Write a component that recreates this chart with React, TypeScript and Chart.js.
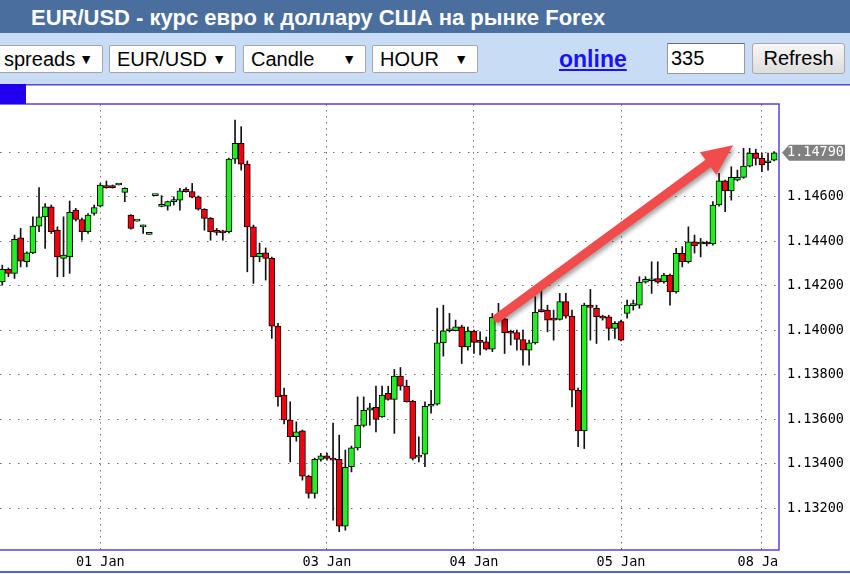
import React, { useEffect, useRef } from 'react';
import { Chart, registerables } from 'chart.js';

Chart.register(...registerables);

// Hourly EUR/USD candles, oldest first
const OPEN = [
  1.14218, 1.14274, 1.14256, 1.14416, 1.14308, 1.14348, 1.14468, 1.14510, 1.14555, 1.14450,
  1.14323, 1.14330, 1.14540, 1.14498, 1.14443, 1.14525, 1.14558, 1.14650, 1.14650, 1.14653,
  1.14620, 1.14518, 1.14491, 1.14465, 1.14431, 1.14605, 1.14557, 1.14558, 1.14578, 1.14585,
  1.14634, 1.14623, 1.14600, 1.14544, 1.14503, 1.14443, 1.14443, 1.14443, 1.14769, 1.14840,
  1.14747, 1.14465, 1.14330, 1.14348, 1.14323, 1.14019, 1.13709, 1.13597, 1.13522, 1.13548,
  1.13345, 1.13267, 1.13420, 1.13436, 1.13426, 1.13420, 1.13120, 1.13387, 1.13472, 1.13573,
  1.13641, 1.13654, 1.13611, 1.13717, 1.13690, 1.13794, 1.13749, 1.13682, 1.13430, 1.13444,
  1.13659, 1.13668, 1.13944, 1.13998, 1.13998, 1.14016, 1.13926, 1.13997, 1.13948, 1.13948,
  1.13915, 1.14059, 1.14052, 1.13990, 1.13990, 1.13959, 1.13911, 1.13944, 1.14091, 1.14091,
  1.14049, 1.14049, 1.14129, 1.14064, 1.13731, 1.13548, 1.14113, 1.14099, 1.14061, 1.14061,
  1.14009, 1.14039, 1.14076, 1.14111, 1.14113, 1.14216, 1.14223, 1.14233, 1.14218, 1.14248,
  1.14173, 1.14346, 1.14308, 1.14398, 1.14388, 1.14393, 1.14388, 1.14563, 1.14672, 1.14627,
  1.14675, 1.14687, 1.14738, 1.14796, 1.14773, 1.14753, 1.14765,
];
const HIGH = [
  1.14293, 1.14280, 1.14428, 1.14458, 1.14353, 1.14510, 1.14642, 1.14570, 1.14563, 1.14465,
  1.14510, 1.14581, 1.14548, 1.14504, 1.14525, 1.14563, 1.14660, 1.14671, 1.14653, 1.14653,
  1.14641, 1.14520, 1.14491, 1.14473, 1.14431, 1.14605, 1.14605, 1.14581, 1.14600, 1.14638,
  1.14642, 1.14660, 1.14604, 1.14547, 1.14507, 1.14458, 1.14450, 1.14774, 1.14945, 1.14915,
  1.14761, 1.14473, 1.14392, 1.14370, 1.14329, 1.14032, 1.13740, 1.13679, 1.13589, 1.13552,
  1.13349, 1.13426, 1.13447, 1.13448, 1.13583, 1.13529, 1.13462, 1.13480, 1.13701, 1.13701,
  1.13672, 1.13749, 1.13749, 1.13749, 1.13824, 1.13833, 1.13776, 1.13686, 1.13522, 1.13679,
  1.13731, 1.14100, 1.14113, 1.14076, 1.14046, 1.14023, 1.14015, 1.14001, 1.13993, 1.13970,
  1.14076, 1.14121, 1.14055, 1.14001, 1.14001, 1.14001, 1.13956, 1.14151, 1.14203, 1.14113,
  1.14091, 1.14166, 1.14166, 1.14091, 1.13740, 1.14122, 1.14184, 1.14113, 1.14068, 1.14068,
  1.14039, 1.14046, 1.14136, 1.14136, 1.14241, 1.14241, 1.14308, 1.14308, 1.14256, 1.14253,
  1.14368, 1.14376, 1.14465, 1.14428, 1.14413, 1.14401, 1.14578, 1.14706, 1.14675, 1.14735,
  1.14720, 1.14818, 1.14818, 1.14814, 1.14796, 1.14796, 1.14803,
];
const LOW = [
  1.14203, 1.14241, 1.14233, 1.14285, 1.14285, 1.14345, 1.14443, 1.14368, 1.14435, 1.14241,
  1.14241, 1.14256, 1.14491, 1.14405, 1.14435, 1.14518, 1.14555, 1.14638, 1.14639, 1.14653,
  1.14578, 1.14455, 1.14491, 1.14435, 1.14431, 1.14605, 1.14555, 1.14540, 1.14563, 1.14540,
  1.14621, 1.14595, 1.14540, 1.14450, 1.14405, 1.14428, 1.14405, 1.14438, 1.14750, 1.14720,
  1.14263, 1.14211, 1.14308, 1.14226, 1.13964, 1.13659, 1.13579, 1.13409, 1.13502, 1.13327,
  1.13246, 1.13246, 1.13412, 1.13417, 1.13147, 1.13095, 1.13102, 1.13364, 1.13462, 1.13566,
  1.13574, 1.13544, 1.13609, 1.13686, 1.13537, 1.13731, 1.13677, 1.13417, 1.13409, 1.13387,
  1.13628, 1.13664, 1.13884, 1.13992, 1.13997, 1.13851, 1.13911, 1.13896, 1.13889, 1.13911,
  1.13904, 1.14048, 1.13896, 1.13934, 1.13911, 1.13844, 1.13844, 1.13938, 1.14082, 1.13993,
  1.13956, 1.14046, 1.14055, 1.13656, 1.13477, 1.13469, 1.13956, 1.13941, 1.14046, 1.13956,
  1.13964, 1.13952, 1.14055, 1.14091, 1.14099, 1.14212, 1.14166, 1.14211, 1.14212, 1.14113,
  1.14167, 1.14285, 1.14302, 1.14347, 1.14330, 1.14379, 1.14383, 1.14558, 1.14533, 1.14585,
  1.14671, 1.14683, 1.14734, 1.14743, 1.14713, 1.14720, 1.14761,
];
const CLOSE = [
  1.14274, 1.14256, 1.14409, 1.14311, 1.14348, 1.14468, 1.14510, 1.14555, 1.14443, 1.14330,
  1.14338, 1.14530, 1.14498, 1.14443, 1.14518, 1.14552, 1.14653, 1.14641, 1.14641, 1.14653,
  1.14638, 1.14458, 1.14491, 1.14465, 1.14431, 1.14605, 1.14557, 1.14578, 1.14585, 1.14627,
  1.14623, 1.14598, 1.14544, 1.14503, 1.14443, 1.14440, 1.14438, 1.14769, 1.14840, 1.14747,
  1.14465, 1.14330, 1.14346, 1.14323, 1.14019, 1.13701, 1.13597, 1.13522, 1.13544, 1.13345,
  1.13267, 1.13420, 1.13436, 1.13424, 1.13417, 1.13120, 1.13384, 1.13472, 1.13573, 1.13641,
  1.13652, 1.13600, 1.13709, 1.13690, 1.13794, 1.13749, 1.13679, 1.13424, 1.13439, 1.13659,
  1.13668, 1.13944, 1.13998, 1.14004, 1.14016, 1.13926, 1.13997, 1.13946, 1.13946, 1.13915,
  1.14058, 1.14052, 1.13988, 1.13987, 1.13959, 1.13911, 1.13944, 1.14081, 1.14084, 1.14046,
  1.14046, 1.14129, 1.14064, 1.13731, 1.13548, 1.14113, 1.14103, 1.14061, 1.14055, 1.14009,
  1.14032, 1.13956, 1.14113, 1.14116, 1.14216, 1.14229, 1.14229, 1.14216, 1.14248, 1.14173,
  1.14346, 1.14308, 1.14398, 1.14379, 1.14393, 1.14388, 1.14563, 1.14672, 1.14627, 1.14687,
  1.14687, 1.14738, 1.14796, 1.14773, 1.14743, 1.14762, 1.14798,
];

// Axis marks
const DAY_INDEX = [16, 53, 77, 101, 124];
const DAY_LABELS = ['01 Jan', '03 Jan', '04 Jan', '05 Jan', '08 Jan'];
const PRICE_TICKS = [1.132, 1.134, 1.136, 1.138, 1.14, 1.142, 1.144, 1.146, 1.148];
const Y_RANGE = [1.13013, 1.15017];
const X_RANGE = [-0.37, 126.79];
const LAST_QUOTE = '1.14790';
// Trend arrow annotation: [candle index, price]
const ARROW_FROM = [80.8, 1.14055];
const ARROW_TO = [119.3, 1.14832];

const FRAME = '#5346dc';

const decorations = {
  id: 'decorations',
  afterDatasetsDraw(chart: any) {
    const { ctx, scales } = chart;
    const xs = scales.x;
    const ys = scales.y;
    const x1 = xs.getPixelForValue(ARROW_FROM[0]);
    const y1 = ys.getPixelForValue(ARROW_FROM[1]);
    const x2 = xs.getPixelForValue(ARROW_TO[0]);
    const y2 = ys.getPixelForValue(ARROW_TO[1]);
    const a = Math.atan2(y2 - y1, x2 - x1);
    const c = Math.cos(a), s = Math.sin(a);
    const headLen = 31, headHalf = 14, half = 4.5;
    const bx = x2 - headLen * c, by = y2 - headLen * s;
    ctx.save();
    ctx.shadowColor = 'rgba(0,0,0,0.35)';
    ctx.shadowBlur = 4;
    ctx.shadowOffsetX = 2;
    ctx.shadowOffsetY = 3;
    ctx.fillStyle = '#f24b4b';
    ctx.beginPath();
    ctx.moveTo(x1 + half * s, y1 - half * c);
    ctx.lineTo(bx + half * s, by - half * c);
    ctx.lineTo(bx + headHalf * s, by - headHalf * c);
    ctx.lineTo(x2, y2);
    ctx.lineTo(bx - headHalf * s, by + headHalf * c);
    ctx.lineTo(bx - half * s, by + half * c);
    ctx.lineTo(x1 - half * s, y1 + half * c);
    ctx.arc(x1, y1, half, a + Math.PI / 2, a + (3 * Math.PI) / 2);
    ctx.closePath();
    ctx.fill();
    ctx.restore();
  },
  afterDraw(chart: any) {
    const { ctx, chartArea, scales, width, height } = chart;
    const xs = scales.x;
    const ys = scales.y;
    ctx.save();
    ctx.strokeStyle = FRAME;
    ctx.lineWidth = 1.5;
    ctx.beginPath();
    ctx.moveTo(0, chartArea.top);
    ctx.lineTo(chartArea.right, chartArea.top);
    ctx.lineTo(chartArea.right, chartArea.bottom);
    ctx.lineTo(0, chartArea.bottom);
    ctx.stroke();
    ctx.beginPath();
    ctx.moveTo(0, 0.75);
    ctx.lineTo(width, 0.75);
    ctx.stroke();
    ctx.fillStyle = '#2000ee';
    ctx.fillRect(0, 0, 26, chartArea.top);
    ctx.strokeStyle = '#4a68c8';
    ctx.lineWidth = 2;
    ctx.beginPath();
    ctx.moveTo(0, height - 2);
    ctx.lineTo(width, height - 2);
    ctx.stroke();
    ctx.save();
    ctx.beginPath();
    ctx.rect(0, chartArea.bottom + 1, chartArea.right, height - chartArea.bottom);
    ctx.clip();
    ctx.fillStyle = '#000';
    ctx.font = '13.5px "DejaVu Sans Mono"';
    ctx.textAlign = 'center';
    ctx.textBaseline = 'middle';
    DAY_INDEX.forEach((v, i) => {
      ctx.fillText(DAY_LABELS[i], xs.getPixelForValue(v), chartArea.bottom + 12);
    });
    ctx.restore();
    const py = ys.getPixelForValue(CLOSE[CLOSE.length - 1]);
    const l = chartArea.right + 3;
    ctx.fillStyle = '#808080';
    ctx.beginPath();
    ctx.moveTo(l, py);
    ctx.lineTo(l + 7, py - 8);
    ctx.lineTo(width - 5, py - 8);
    ctx.lineTo(width - 5, py + 8);
    ctx.lineTo(l + 7, py + 8);
    ctx.closePath();
    ctx.fill();
    ctx.fillStyle = '#fff';
    ctx.font = '13.5px "DejaVu Sans Mono"';
    ctx.textAlign = 'left';
    ctx.textBaseline = 'middle';
    ctx.fillText(LAST_QUOTE, chartArea.right + 8, py);
    ctx.restore();
  },
};

function Select({ left, width, label }: { left: number; width: number; label: string }) {
  return (
    <div
      style={{
        position: 'absolute',
        left,
        top: 45,
        width,
        height: 28,
        boxSizing: 'border-box',
        border: '1px solid #a6a6a6',
        borderRadius: 2,
        background: '#fff',
        fontSize: 20,
        lineHeight: '26px',
        paddingLeft: 7,
        color: '#000',
      }}
    >
      {label}
      <span style={{ position: 'absolute', right: 9, top: 0, fontSize: 14, lineHeight: '26px' }}>▼</span>
    </div>
  );
}

export default function App() {
  const ref = useRef<HTMLCanvasElement | null>(null);
  useEffect(() => {
    if (!ref.current) return;
    const bodyColors = OPEN.map((o, i) => (CLOSE[i] >= o ? '#22ee22' : '#f20010'));
    const chart = new Chart(ref.current, {
      type: 'bar',
      data: {
        datasets: [
          {
            label: 'body',
            data: OPEN.map((o, i) => ({ x: i, y: [o, CLOSE[i]] })) as any,
            backgroundColor: bodyColors,
            borderColor: '#000',
            borderWidth: 1,
            borderSkipped: false,
            barThickness: 6,
            minBarLength: 2,
            grouped: false,
            order: 1,
          } as any,
          {
            label: 'wick',
            data: LOW.map((lo, i) => ({ x: i, y: [lo, HIGH[i]] })) as any,
            backgroundColor: '#111',
            borderWidth: 0,
            barThickness: 1,
            grouped: false,
            order: 2,
          } as any,
        ],
      },
      options: {
        animation: false,
        responsive: false,
        devicePixelRatio: 1,
        layout: { padding: { top: 20, left: 0, right: 0, bottom: 0 } },
        plugins: { legend: { display: false }, tooltip: { enabled: false } },
        scales: {
          x: {
            type: 'linear',
            offset: false,
            min: X_RANGE[0],
            max: X_RANGE[1],
            afterBuildTicks: (s: any) => {
              s.ticks = DAY_INDEX.map((v) => ({ value: v }));
            },
            afterFit: (s: any) => {
              s.height = 24;
            },
            ticks: { display: false },
            grid: { offset: false, color: '#6e6e6e', lineWidth: 1, drawTicks: false },
            border: { display: false, dash: [1.5, 4.5] },
          },
          y: {
            position: 'right',
            min: Y_RANGE[0],
            max: Y_RANGE[1],
            afterBuildTicks: (s: any) => {
              s.ticks = PRICE_TICKS.map((v) => ({ value: v }));
            },
            afterFit: (s: any) => {
              s.width = 71;
            },
            ticks: {
              padding: 8,
              color: '#000',
              font: { family: 'DejaVu Sans Mono', size: 13.5 },
              callback: (v: any) => Number(v).toFixed(5),
            },
            grid: { color: '#6e6e6e', lineWidth: 1, drawTicks: false },
            border: { display: false, dash: [1.5, 7.5] },
          },
        },
      } as any,
      plugins: [decorations],
    });
    return () => chart.destroy();
  }, []);

  return (
    <div
      style={{
        position: 'fixed',
        left: 0,
        top: 0,
        width: 850,
        height: 574,
        overflow: 'hidden',
        background: '#fff',
        fontFamily: '"Liberation Sans", Arial, sans-serif',
      }}
    >
      <div
        style={{
          position: 'absolute',
          left: 0,
          top: 0,
          width: 850,
          height: 33,
          background: '#4a6e9d',
          color: '#fff',
          fontWeight: 'bold',
          fontSize: 22,
          lineHeight: '35px',
          paddingLeft: 31,
          boxSizing: 'border-box',
          whiteSpace: 'nowrap',
        }}
      >
        EUR/USD - курс евро к доллару США на рынке Forex
      </div>
      <div style={{ position: 'absolute', left: 0, top: 33, width: 850, height: 51, background: '#c8dcf5' }} />
      <Select left={-4} width={107} label="spreads" />
      <Select left={109} width={127} label="EUR/USD" />
      <Select left={243} width={123} label="Candle" />
      <Select left={372} width={106} label="HOUR" />
      <a
        href="#"
        style={{
          position: 'absolute',
          left: 559,
          top: 44,
          fontSize: 23,
          lineHeight: '30px',
          fontWeight: 'bold',
          color: '#1a12ff',
          textDecoration: 'underline',
        }}
      >
        online
      </a>
      <div
        style={{
          position: 'absolute',
          left: 667,
          top: 43,
          width: 78,
          height: 31,
          boxSizing: 'border-box',
          border: '1px solid #9a9a9a',
          borderTopColor: '#707070',
          background: '#fff',
          fontSize: 20,
          lineHeight: '29px',
          paddingLeft: 3,
        }}
      >
        335
      </div>
      <div
        style={{
          position: 'absolute',
          left: 752,
          top: 43,
          width: 93,
          height: 31,
          boxSizing: 'border-box',
          border: '1px solid #a9a9a9',
          borderRadius: 3,
          background: 'linear-gradient(#f7f7f7, #dddddd)',
          fontSize: 20,
          lineHeight: '29px',
          textAlign: 'center',
        }}
      >
        Refresh
      </div>
      <canvas ref={ref} width={850} height={490} style={{ position: 'absolute', left: 0, top: 84, width: 850, height: 490 }} />
    </div>
  );
}
